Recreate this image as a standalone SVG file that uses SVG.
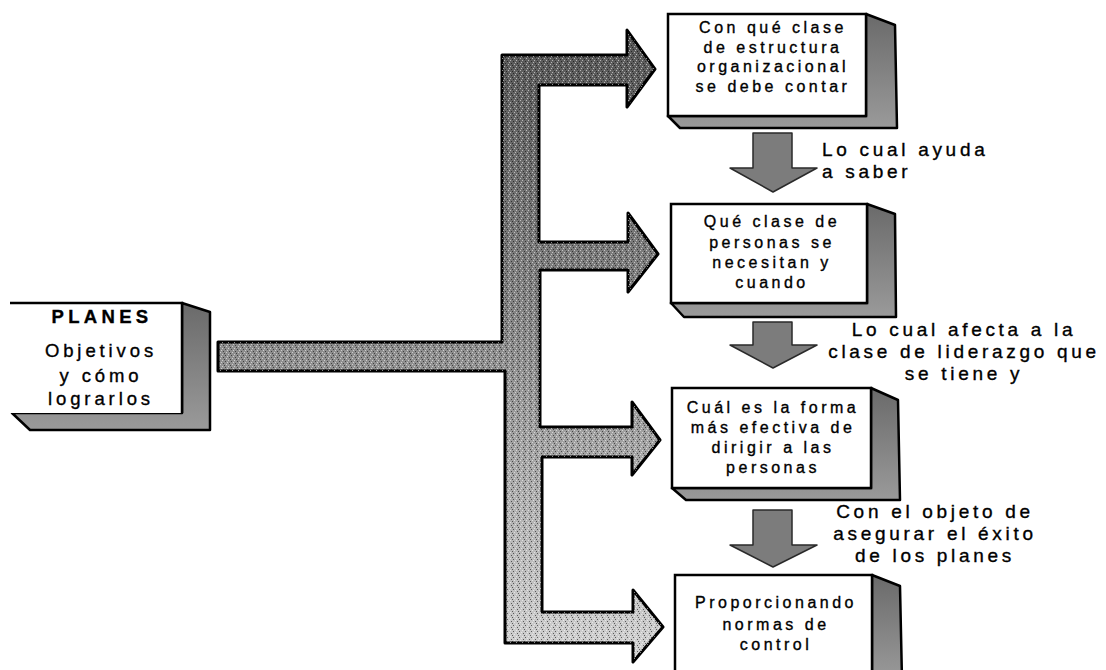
<svg xmlns="http://www.w3.org/2000/svg" width="1106" height="670" viewBox="0 0 1106 670">
<style>
  .face { fill: #ffffff; stroke: #000; stroke-width: 2.5; }
  .edge { fill: none; stroke: #000; stroke-width: 2.5; }
  .shade { fill: url(#sideGrad); stroke: #000; stroke-width: 2.5; stroke-linejoin: round; }
  .tex { fill: url(#stip); opacity: 0.55; }
  .btxt { font-family: "Liberation Sans", Arial, sans-serif; font-size: 16px; letter-spacing: 3.5px; fill: #000; stroke: #000; stroke-width: 0.35; text-anchor: middle; }
  .ltxt { font-family: "Liberation Sans", Arial, sans-serif; font-size: 19px; letter-spacing: 3.7px; fill: #000; stroke: #000; stroke-width: 0.35; }
  .ptxt { font-family: "Liberation Sans", Arial, sans-serif; font-size: 18.5px; letter-spacing: 3.9px; fill: #000; stroke: #000; stroke-width: 0.35; text-anchor: middle; }
  .down { fill: #7c7c7c; stroke: #2a2a2a; stroke-width: 1.5; stroke-linejoin: round; }
</style>
<defs>
  <linearGradient id="barGrad" gradientUnits="userSpaceOnUse" x1="0" y1="30" x2="0" y2="660">
    <stop offset="0" stop-color="#575757"/>
    <stop offset="0.45" stop-color="#858585"/>
    <stop offset="0.75" stop-color="#b0b0b0"/>
    <stop offset="1" stop-color="#d2d2d2"/>
  </linearGradient>
  <linearGradient id="sideGrad" x1="0" y1="0" x2="0" y2="1">
    <stop offset="0" stop-color="#6a6a6a"/>
    <stop offset="1" stop-color="#9a9a9a"/>
  </linearGradient>
  <pattern id="stip" width="6" height="6" patternUnits="userSpaceOnUse">
    <rect x="0" y="0" width="1" height="1" fill="#fff"/>
    <rect x="3" y="1" width="1" height="1" fill="#000"/>
    <rect x="1" y="3" width="1" height="1" fill="#000"/>
    <rect x="4" y="4" width="1" height="1" fill="#fff"/>
    <rect x="5" y="2" width="1" height="1" fill="#fff"/>
    <rect x="2" y="5" width="1" height="1" fill="#000"/>
  </pattern>
</defs>
<rect width="1106" height="670" fill="#ffffff"/>

<g id="connectors">
  <path d="M218,342 L502,342 L502,55 L627,55 L627,30 L655,69 L627,107 L627,85 L539,85 L539,242 L628,242 L628,213 L658,254 L628,292 L628,270 L540,270 L540,427 L632,427 L632,402 L660,440 L632,475 L632,457 L542,457 L542,612 L633,612 L633,590 L663,627 L633,662 L633,643 L505,643 L505,371 L218,371 Z" fill="url(#barGrad)" stroke="#000" stroke-width="3" stroke-linejoin="round"/>
  <path d="M218,342 L502,342 L502,55 L627,55 L627,30 L655,69 L627,107 L627,85 L539,85 L539,242 L628,242 L628,213 L658,254 L628,292 L628,270 L540,270 L540,427 L632,427 L632,402 L660,440 L632,475 L632,457 L542,457 L542,612 L633,612 L633,590 L663,627 L633,662 L633,643 L505,643 L505,371 L218,371 Z" class="tex"/>
  <polygon class="down" points="753,133 792,133 792,168 817,168 773,192 730,168 753,168"/>
  <polygon class="down" points="753,322 792,322 792,345 817,345 773,368 730,345 753,345"/>
  <polygon class="down" points="753,510 792,510 792,545 817,545 773,567 730,545 753,545"/>
</g>

<g id="planes">
  <polygon class="shade" points="182,303 210,312 210,430 30,430 12,413 182,413"/>
  <rect x="10" y="303" width="172" height="110" fill="#fff"/>
  <path class="edge" d="M10,303 L182,303 L182,413"/>
  <text class="ptxt" x="102" y="323" font-weight="bold" style="letter-spacing:4.3px">PLANES</text>
  <text class="ptxt" x="101" y="357">Objetivos</text>
  <text class="ptxt" x="101" y="382">y cómo</text>
  <text class="ptxt" x="101" y="405">lograrlos</text>
</g>

<g id="box1">
  <polygon class="shade" points="866,14 895,25 897,128 680,128 668,116 866,116"/>
  <rect class="face" x="668" y="14" width="198" height="102"/>
  <text class="btxt" x="773" y="33">Con qué clase</text>
  <text class="btxt" x="773" y="52.5">de estructura</text>
  <text class="btxt" x="773" y="72">organizacional</text>
  <text class="btxt" x="773" y="91.5">se debe contar</text>
</g>

<g id="box2">
  <polygon class="shade" points="867,204 895,214 896,317 684,317 671,303 867,303"/>
  <rect class="face" x="671" y="204" width="196" height="99"/>
  <text class="btxt" x="772" y="227">Qué clase de</text>
  <text class="btxt" x="772" y="248">personas se</text>
  <text class="btxt" x="772" y="268">necesitan y</text>
  <text class="btxt" x="772" y="288">cuando</text>
</g>

<g id="box3">
  <polygon class="shade" points="871,388 898,400 900,500 686,500 672,488 871,488"/>
  <rect class="face" x="672" y="388" width="199" height="100"/>
  <text class="btxt" x="773" y="413">Cuál es la forma</text>
  <text class="btxt" x="773" y="433">más efectiva de</text>
  <text class="btxt" x="773" y="453">dirigir a las</text>
  <text class="btxt" x="773" y="473">personas</text>
</g>

<g id="box4">
  <polygon class="shade" points="872,575 900,586 902,680 872,680"/>
  <rect class="face" x="675" y="575" width="197" height="110"/>
  <text class="btxt" x="776" y="608">Proporcionando</text>
  <text class="btxt" x="776" y="630">normas de</text>
  <text class="btxt" x="776" y="650">control</text>
</g>

<g id="labels">
  <text class="ltxt" x="822" y="156">Lo cual ayuda</text>
  <text class="ltxt" x="822" y="178">a saber</text>
  <text class="ltxt" x="964" y="336" text-anchor="middle">Lo cual afecta a la</text>
  <text class="ltxt" x="964" y="358" text-anchor="middle">clase de liderazgo que</text>
  <text class="ltxt" x="964" y="380" text-anchor="middle">se tiene y</text>
  <text class="ltxt" x="935" y="518" text-anchor="middle">Con el objeto de</text>
  <text class="ltxt" x="935" y="540" text-anchor="middle">asegurar el éxito</text>
  <text class="ltxt" x="935" y="562" text-anchor="middle">de los planes</text>
</g>
</svg>
